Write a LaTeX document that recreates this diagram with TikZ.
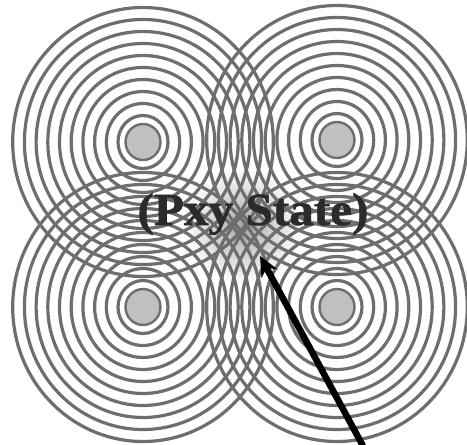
\documentclass[tikz,border=0pt]{standalone}
\usepackage{fontspec}
\setmainfont{Liberation Serif}
\newfontfamily\labelfont{Liberation Serif Bold}[FakeBold=1.2]
\usetikzlibrary{arrows.meta}
\definecolor{ringgray}{HTML}{6E6E6E}
\definecolor{diskgray}{HTML}{C0C0C0}
\definecolor{textgray}{HTML}{2B2B2B}
\tikzset{
  ring/.style={draw=ringgray, line width=3.2pt},
  disk/.style={draw=ringgray, fill=diskgray, line width=2.4pt},
  pointer/.style={draw=black, line width=6.5pt, -{Stealth[length=20pt,width=18pt]}},
  label/.style={font=\labelfont\fontsize{46}{46}\selectfont, text=textgray, inner sep=0pt, xscale=1.07}
}
\begin{document}
\begin{tikzpicture}[x=1pt,y=-1pt]
\useasboundingbox (0,0) rectangle (467,445);
\fill[white] (0,0) rectangle (467,445);
\shade[inner color=gray!70, outer color=white] (243,226) ellipse (58 and 58);
\foreach \cx/\cy/\nm in {143/142/tl,337/140/tr,143/307/bl,337/307/br}{
  \coordinate (\nm) at (\cx,\cy);
  \foreach \k in {0,...,9}{
    \draw[ring] (\nm) ellipse ({25+11.7*\k} and {26.5+12*\k});
  }
  \draw[disk] (\nm) ellipse (17.5 and 18);
}
\node[label, anchor=base] (state) at (253,225) {(Pxy State)};
\coordinate (tail) at (363,446);
\coordinate (tip) at (260,256);
\draw[pointer] (tail) -- (tip);
\end{tikzpicture}
\end{document}
